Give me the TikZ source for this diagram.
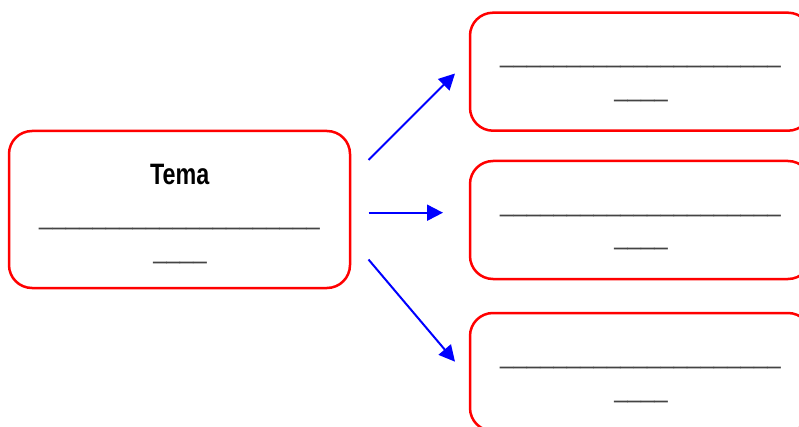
\documentclass[tikz,border=0pt]{standalone}
\usepackage{fontspec}
\setmainfont{Liberation Sans}
\newfontfamily\temafont[FakeStretch=0.79]{Liberation Sans}
\newfontfamily\blankfont[FakeStretch=0.89]{Liberation Sans}
\usetikzlibrary{arrows.meta}
\definecolor{boxred}{RGB}{255,0,0}
\definecolor{arrblue}{RGB}{0,0,255}
\definecolor{linegray}{RGB}{68,68,68}
\tikzset{
  box/.style={draw=boxred, line width=2.5pt, rounded corners=23pt, fill=white,
    minimum width=341pt, inner sep=0pt},
  blank/.style={anchor=base, inner sep=0pt, text=linegray, font=\blankfont\fontsize{27}{27}\selectfont},
  title/.style={anchor=base, inner sep=0pt, font=\temafont\bfseries\fontsize{29.5}{30}\selectfont},
  arr/.style={draw=arrblue, line width=2pt, -{Triangle[length=16pt,width=16pt]}}
}
\begin{document}
\begin{tikzpicture}[x=1pt,y=-1pt]
\path[use as bounding box, clip] (0,0) rectangle (799,427);
% boxes
\node[box, minimum height=157pt] (L) at (179.5,209.5) {};
\node[box, minimum height=118pt] (R1) at (640.5,71.7) {};
\node[box, minimum height=118pt] (R2) at (640.5,220) {};
\node[box, minimum height=118pt] (R3) at (640.5,372) {};
% texts in left box
\node[title] (tema) at (179.7,185) {Tema};
\node[blank] (l1) at (179.5,225) {\_\_\_\_\_\_\_\_\_\_\_\_\_\_\_\_\_\_\_\_\_};
\node[blank] (l2) at (180,258.2) {\_\_\_\_};
% texts in right boxes
\node[blank] (a1) at (640.5,62.2) {\_\_\_\_\_\_\_\_\_\_\_\_\_\_\_\_\_\_\_\_\_};
\node[blank] (a2) at (641,96.2) {\_\_\_\_};
\node[blank] (b1) at (640.5,211.2) {\_\_\_\_\_\_\_\_\_\_\_\_\_\_\_\_\_\_\_\_\_};
\node[blank] (b2) at (641,244.5) {\_\_\_\_};
\node[blank] (c1) at (640.5,363.2) {\_\_\_\_\_\_\_\_\_\_\_\_\_\_\_\_\_\_\_\_\_};
\node[blank] (c2) at (641,397.2) {\_\_\_\_};
% arrow ends
\coordinate (s1) at (368.5,160);
\coordinate (e1) at (455,73.5);
\coordinate (s2) at (368.5,212.7);
\coordinate (e2) at (443,212.7);
\coordinate (s3) at (368.5,259.5);
\coordinate (e3) at (455,361.7);
\draw[arr] (s1) -- (e1);
\draw[arr] (s2) -- (e2);
\draw[arr] (s3) -- (e3);
\end{tikzpicture}
\end{document}
